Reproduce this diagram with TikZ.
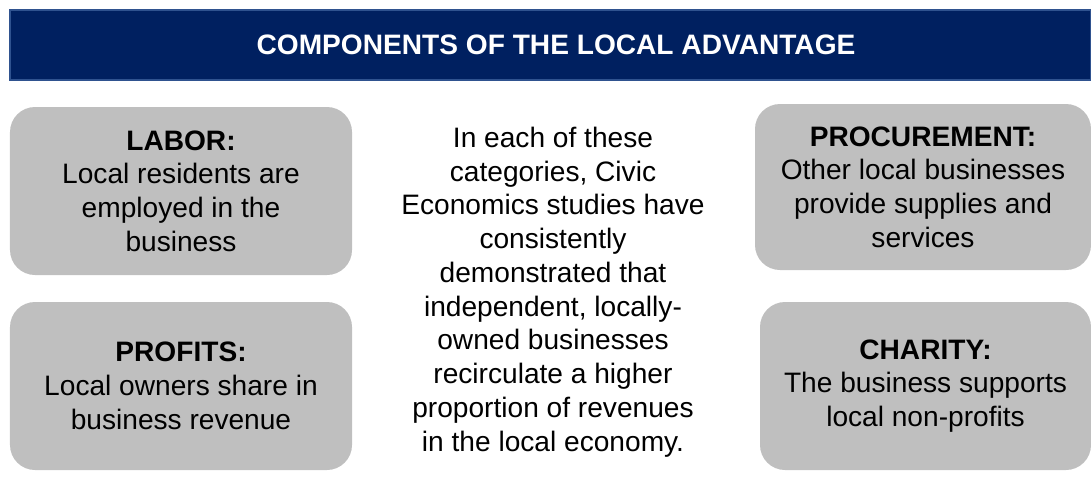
\documentclass[tikz,border=0pt]{standalone}
\usepackage{fontspec}
\setmainfont{Liberation Sans}
\usetikzlibrary{positioning}
\definecolor{navy}{RGB}{0,32,96}
\definecolor{navyline}{RGB}{47,82,143}
\definecolor{boxgray}{RGB}{191,191,191}
\begin{document}
\begin{tikzpicture}[node distance=3.9cm, auto]
    \tikzstyle{banner} = [rectangle, minimum width=21.62cm, minimum height=1.4cm, draw=navyline, line width=1pt, fill=navy, text=white, font=\fontsize{16}{19.2}\selectfont\bfseries]
    \tikzstyle{component} = [rectangle, rounded corners=0.5cm, minimum height=3.36cm, fill=boxgray, align=center, font=\fontsize{16}{19.2}\selectfont]
    \tikzstyle{summary} = [align=center, font=\fontsize{16}{19.2}\selectfont]

    \useasboundingbox (0,0) rectangle (21.82,9.86);

    % Title bar
    \node [banner] (title) at (11.01,8.96) {};
    \node [text=white, font=\fontsize{16}{19.2}\selectfont\bfseries] (title_text) at (11.12,8.96) {COMPONENTS OF THE LOCAL ADVANTAGE};

    % Left column
    \node [component, minimum width=6.84cm] (labor) at (3.62,6.04) {\textbf{LABOR:}\\Local residents are\\employed in the\\business};
    \node [component, minimum width=6.84cm, below of=labor] (profits) {\textbf{PROFITS:}\\Local owners share in\\business revenue};

    % Right column
    \node [component, minimum width=6.72cm, minimum height=3.32cm] (procurement) at (18.46,6.12) {\textbf{PROCUREMENT:}\\Other local businesses\\provide supplies and\\services};
    \node [component, minimum width=6.62cm] (charity) at (18.51,2.14) {\textbf{CHARITY:}\\The business supports\\local non-profits};

    % Middle text
    \node [summary] (findings) at (11.06,4.02) {In each of these\\categories, Civic\\Economics studies have\\consistently\\demonstrated that\\independent, locally-\\owned businesses\\recirculate a higher\\proportion of revenues\\in the local economy.};
\end{tikzpicture}
\end{document}
